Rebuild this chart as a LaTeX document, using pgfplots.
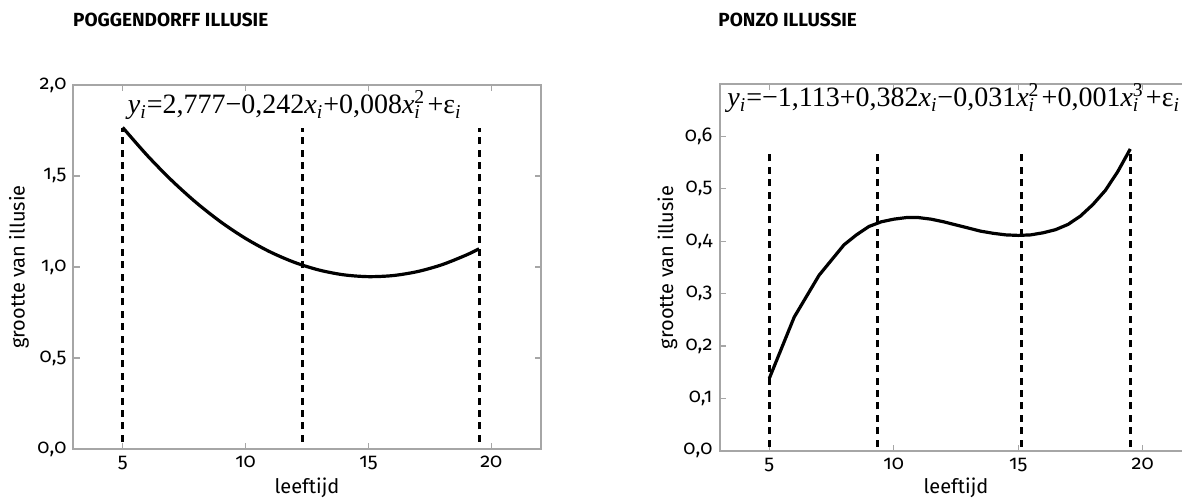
\documentclass[border=0pt]{standalone}
\usepackage{fontspec}
\setmainfont{Fira Sans}[Numbers=OldStyle]
\newfontfamily\eqfont{Liberation Serif}
\usepackage{pgfplots}
\pgfplotsset{compat=1.18}

% variable with subscript i, and with stacked exponent
\newcommand\iv[1]{\textit{#1}\textsubscript{\textit{i}}}
\newcommand\ivp[2]{\textit{#1}\rlap{\textsubscript{\textit{i}}}\textsuperscript{#2}\kern0.08em}
\newcommand\ep{ε\textsubscript{\textit{i}}}

\pgfplotsset{
  illusie/.style={
    scale only axis,
    xmin=3, xmax=22,
    xtick={5,10,15,20},
    axis line style={draw=black!35, line width=1pt},
    tick style={draw=black!35, line width=0.6pt},
    major tick length=3pt,
    tick align=inside,
    ticklabel style={font=\fontsize{10}{12}\selectfont},
    /pgf/number format/assume math mode=true,
    yticklabel style={/pgf/number format/.cd, fixed, fixed zerofill, precision=1, use comma},
    xlabel={leeftijd},
    ylabel={grootte van illusie},
    label style={font=\fontsize{10}{12}\selectfont},
    clip=false,
  },
  curve/.style={black, line width=1.6pt},
  grens/.style={black, line width=1.5pt, dash pattern=on 3.5pt off 2.7pt},
}

\begin{document}
\begin{tikzpicture}

% ---- Poggendorff ----
\begin{axis}[illusie,
    at={(36.75pt,25.5pt)}, anchor=south west,
    width=233.5pt, height=182pt,
    ymin=0, ymax=2,
    ytick={0,0.5,1,1.5,2},
    every axis y label/.style={at={(axis description cs:-0.117,0.5)}, rotate=90, anchor=center},
    every axis x label/.style={at={(axis description cs:0.5,-0.107)}, anchor=center},
]
\addplot[grens] coordinates {(5,0.04) (5,1.765)};
\addplot[grens] coordinates {(12.3,0.04) (12.3,1.765)};
\addplot[grens] coordinates {(19.5,0.04) (19.5,1.765)};
\addplot[curve, smooth] coordinates {
  (5,1.767) (6,1.613) (7,1.475) (8,1.353) (9,1.247) (10,1.157) (11,1.083)
  (12,1.025) (13,0.983) (14,0.957) (15,0.947) (16,0.953) (17,0.975)
  (18,1.013) (19,1.067) (19.5,1.100)
};
\node[font=\eqfont\fontsize{14}{16}\selectfont, inner sep=0pt] at (axis cs:12.0,1.89)
  {\iv{y}=2,777−0,242\iv{x}+0,008\ivp{x}{2}+\ep};
\end{axis}

% ---- Ponzo ----
\begin{axis}[illusie,
    at={(359.75pt,24.65pt)}, anchor=south west,
    width=236.5pt, height=183.35pt,
    ymin=0, ymax=0.7,
    ytick={0,0.1,0.2,0.3,0.4,0.5,0.6},
    every axis y label/.style={at={(axis description cs:-0.11,0.5)}, rotate=90, anchor=center},
    every axis x label/.style={at={(axis description cs:0.5,-0.102)}, anchor=center},
]
\addplot[grens] coordinates {(5,0.008) (5,0.568)};
\addplot[grens] coordinates {(9.33,0.008) (9.33,0.568)};
\addplot[grens] coordinates {(15.15,0.008) (15.15,0.568)};
\addplot[grens] coordinates {(19.5,0.008) (19.5,0.568)};
\addplot[curve] coordinates {
  (5,0.138) (6,0.255) (7,0.335) (8,0.393) (8.5,0.412) (9,0.428) (9.5,0.437)
  (10,0.442) (10.5,0.445) (11,0.445) (11.5,0.442) (12,0.437) (12.5,0.431)
  (13,0.425) (13.5,0.419) (14,0.415) (14.5,0.412) (15,0.411) (15.5,0.412)
  (16,0.416) (16.5,0.422) (17,0.432) (17.5,0.448) (18,0.470) (18.5,0.497)
  (19,0.533) (19.5,0.576)
};
\node[font=\eqfont\fontsize{14}{16}\selectfont, inner sep=0pt, anchor=west] at (axis cs:3.3,0.673)
  {\iv{y}=−1,113+0,382\iv{x}−0,031\ivp{x}{2}+0,001\ivp{x}{3}+\ep};
\end{axis}

% titles
\node[anchor=west, inner sep=0pt, font=\bfseries\fontsize{9.5}{12}\selectfont] at (36.35pt,240pt) {POGGENDORFF ILLUSIE};
\node[anchor=west, inner sep=0pt, font=\bfseries\fontsize{9.5}{12}\selectfont] at (359pt,240pt) {PONZO ILLUSSIE};

\pgfresetboundingbox
\path[use as bounding box] (0,0) rectangle (591pt,250pt);
\end{tikzpicture}
\end{document}
